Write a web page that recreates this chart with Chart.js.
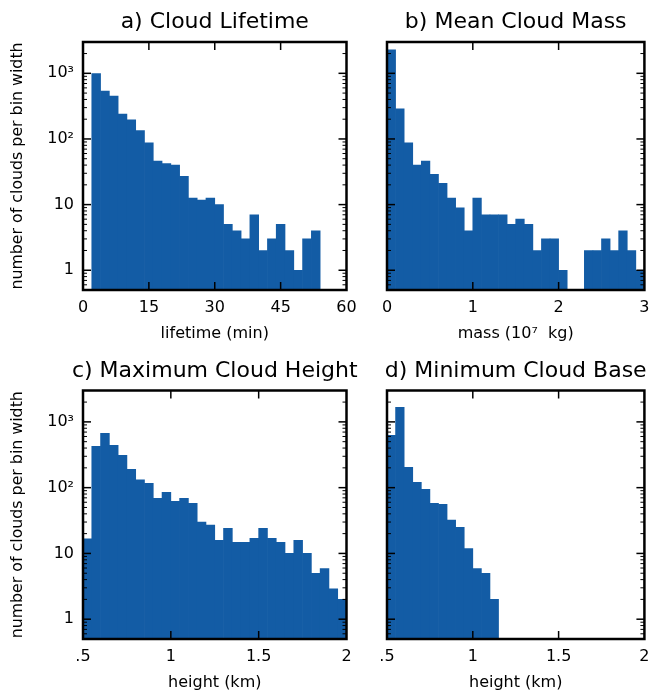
<!DOCTYPE html>
<html>
<head>
<meta charset="utf-8">
<script src="https://cdn.jsdelivr.net/npm/chart.js@4/dist/chart.umd.min.js"></script>
<style>
html,body{margin:0;padding:0;background:#fff;overflow:hidden;width:658px;height:692px;position:relative}
canvas{position:absolute}
</style>
</head>
<body>
<canvas id="pa"></canvas>
<canvas id="pb"></canvas>
<canvas id="pc"></canvas>
<canvas id="pd"></canvas>
<script>
// ---------- data ----------
const lifetimeBinStarts = [2,4,6,8,10,12,14,16,18,20,22,24,26,28,30,32,34,36,38,40,42,44,46,48,50,52];
const lifetimeBinWidth = 2;
const lifetimeCounts = [990,538,452,240,195,134,87,46,42,40,27,12.6,11.7,12.6,10,5,4,3,7,2,3,5,2,1,3,4];

const massBinStarts = [0,0.1,0.2,0.3,0.4,0.5,0.6,0.7,0.8,0.9,1.0,1.1,1.2,1.3,1.4,1.5,1.6,1.7,1.8,1.9,2.0,2.1,2.2,2.3,2.4,2.5,2.6,2.7,2.8,2.9];
const massBinWidth = 0.1;
const massCounts = [2270,287,87,40,46,29,21,12.6,8.9,4,12.6,7,7,7,5,6,5,2,3,3,1,null,null,2,2,3,2,4,2,1];

const topBinStarts = [0.5,0.55,0.6,0.65,0.7,0.75,0.8,0.85,0.9,0.95,1.0,1.05,1.1,1.15,1.2,1.25,1.3,1.35,1.4,1.45,1.5,1.55,1.6,1.65,1.7,1.75,1.8,1.85,1.9,1.95];
const topBinWidth = 0.05;
const topCounts = [16.7,426,672,441,311,190,131,116,69,85,62,69,58,30,27,15.8,24,14.7,14.7,16.9,24,16.9,14.7,10,15.8,10,5,5.9,2.9,2];

const baseBinStarts = [0.5,0.55,0.6,0.65,0.7,0.75,0.8,0.85,0.9,0.95,1.0,1.05,1.1];
const baseBinWidth = 0.05;
const baseCounts = [627,1670,204,120,94,58,56,32,25,11.9,5.9,5,2];

const yTickValues = [1,10,100,1000];
const yTickLabels = ['1','10','10\u00B2','10\u00B3'];
const lifetimeTicks = [0,15,30,45,60];
const lifetimeTickLabels = ['0','15','30','45','60'];
const massTicks = [0,1,2,3];
const massTickLabels = ['0','1','2','3'];
const heightTicks = [0.5,1,1.5,2];
const heightTickLabels = ['.5','1','1.5','2'];

const titles = ['a) Cloud Lifetime','b) Mean Cloud Mass','c) Maximum Cloud Height','d) Minimum Cloud Base'];
const xLabels = ['lifetime (min)','mass (10\u2077  kg)','height (km)','height (km)'];
const yLabel = 'number of clouds per bin width';

// ---------- style ----------
const BAR = '#135ca5';
const FONT = '"DejaVu Sans", sans-serif';
Chart.defaults.font.family = FONT;
Chart.defaults.color = '#000';

const framePlugin = {
  id: 'frame',
  afterDatasetsDraw(chart, args, opts) {
    const {ctx, chartArea: a} = chart;
    const x = chart.scales.x, y = chart.scales.y;
    ctx.save();
    ctx.strokeStyle = '#000';
    const seg = (x1,y1,x2,y2)=>{ctx.beginPath();ctx.moveTo(x1,y1);ctx.lineTo(x2,y2);ctx.stroke();};
    ctx.lineWidth = 1.5;
    x.ticks.forEach(t => {
      const px = x.getPixelForValue(t.value);
      if (px <= a.left + 1 || px >= a.right - 1) return;
      seg(px, a.bottom, px, a.bottom - 8);
      seg(px, a.top, px, a.top + 8);
    });
    y.ticks.forEach(t => {
      const py = y.getPixelForValue(t.value);
      seg(a.left, py, a.left + 8, py);
      seg(a.right, py, a.right - 8, py);
    });
    ctx.lineWidth = 1;
    for (let dec = 0.1; dec <= 1000; dec *= 10) {
      for (let m = 2; m <= 9; m++) {
        const v = m * dec;
        if (v < y.min || v > y.max) continue;
        const py = y.getPixelForValue(v);
        seg(a.left, py, a.left + 4, py);
        seg(a.right, py, a.right - 4, py);
      }
    }
    ctx.lineWidth = 2.5;
    ctx.strokeRect(a.left, a.top, a.right - a.left, a.bottom - a.top);
    ctx.fillStyle = '#000';
    ctx.font = '22px ' + FONT;
    ctx.textAlign = 'center';
    ctx.textBaseline = 'alphabetic';
    ctx.fillText(opts.text, (a.left + a.right) / 2, a.top - 14);
    ctx.restore();
  }
};

function makePanel(id, box, cv, starts, width, counts, xmin, xmax, xt, xtl, title, xlabel, showY) {
  const el = document.getElementById(id);
  el.width = cv.w; el.height = cv.h;
  el.style.left = cv.x + 'px'; el.style.top = cv.y + 'px';
  el.style.width = cv.w + 'px'; el.style.height = cv.h + 'px';
  const pts = [];
  starts.forEach((s, i) => { if (counts[i] != null) pts.push({x: s + width / 2, y: counts[i]}); });
  return new Chart(el, {
    type: 'bar',
    data: { datasets: [{ data: pts, backgroundColor: BAR, borderWidth: 0,
      barPercentage: 1, categoryPercentage: 1 }] },
    options: {
      responsive: false, animation: false, devicePixelRatio: 1,
      layout: { padding: { left: 0, bottom: 0, top: box.T - cv.y, right: cv.x + cv.w - box.R } },
      plugins: { legend: {display:false}, tooltip: {enabled:false}, frame: { text: title } },
      scales: {
        x: {
          type: 'linear', min: xmin, max: xmax, offset: false,
          grid: { display: false, drawTicks: false, offset: false }, border: { display: false },
          afterBuildTicks: s => { s.ticks = xt.map(v => ({value: v})); },
          ticks: { padding: 8.5, font: { size: 16 }, maxRotation: 0, autoSkip: false,
            callback: v => xtl[xt.indexOf(v)] },
          title: { display: true, text: xlabel, font: { size: 16 }, padding: { top: 0, bottom: 2.4 } },
          afterFit: s => { s.height = cv.y + cv.h - box.B; }
        },
        y: {
          type: 'logarithmic', min: 0.5, max: 3000,
          grid: { display: false, drawTicks: false }, border: { display: false },
          afterBuildTicks: s => { s.ticks = yTickValues.map(v => ({value: v})); },
          ticks: { display: showY, padding: 9, font: { size: 16 }, autoSkip: false,
            callback: v => yTickLabels[yTickValues.indexOf(v)] },
          title: { display: showY, text: yLabel, font: { size: 15.8 }, padding: { top: 8.5, bottom: 0 } },
          afterFit: s => { s.width = box.L - cv.x; }
        }
      }
    },
    plugins: [framePlugin]
  });
}

makePanel('pa', {L:83, T:42, R:346.5, B:290}, {x:0, y:0, w:370, h:346},
  lifetimeBinStarts, lifetimeBinWidth, lifetimeCounts, 0, 60, lifetimeTicks, lifetimeTickLabels, titles[0], xLabels[0], true);
makePanel('pb', {L:387, T:42, R:649.5, B:290}, {x:329, y:0, w:329, h:346},
  massBinStarts, massBinWidth, massCounts, 0, 3, massTicks, massTickLabels, titles[1], xLabels[1], false);
makePanel('pc', {L:83, T:390.5, R:346.5, B:639}, {x:0, y:346, w:370, h:349},
  topBinStarts, topBinWidth, topCounts, 0.5, 2, heightTicks, heightTickLabels, titles[2], xLabels[2], true);
makePanel('pd', {L:387, T:390.5, R:649.5, B:639}, {x:329, y:346, w:329, h:349},
  baseBinStarts, baseBinWidth, baseCounts, 0.5, 2, heightTicks, heightTickLabels, titles[3], xLabels[3], false);
</script>
</body>
</html>
